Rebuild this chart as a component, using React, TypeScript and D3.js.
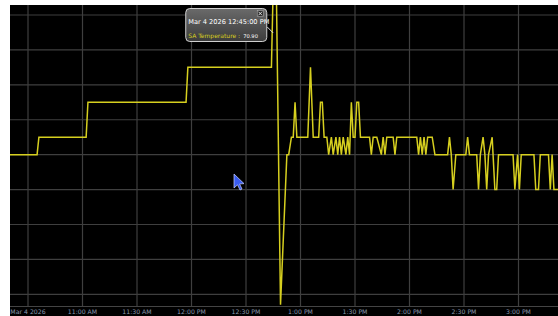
import * as d3 from "d3";
import { useEffect, useRef } from "react";

// SA Temperature trend, Mar 4 2026
const times: string[] = [
    "10:20:00", "10:35:00", "10:36:00", "11:02:00", "11:03:00", "11:57:00", "11:58:00",
    "12:44:00", "12:45:00", "12:46:00", "12:49:00", "12:52:30", "12:53:30", "12:55:00",
    "12:56:00", "12:57:00", "12:58:00", "13:04:00", "13:05:30", "13:07:00", "13:10:00",
    "13:11:00", "13:12:00", "13:13:00", "13:14:30", "13:15:30", "13:17:00", "13:18:00",
    "13:19:30", "13:20:30", "13:21:30", "13:22:30", "13:23:30", "13:25:00", "13:26:00",
    "13:27:00", "13:28:00", "13:29:00", "13:30:00", "13:31:00", "13:32:00", "13:33:00",
    "13:38:00", "13:39:00", "13:40:00", "13:42:00", "13:44:30", "13:45:30", "13:46:30",
    "13:47:30", "13:51:00", "13:52:00", "13:53:00", "14:04:00", "14:05:00", "14:06:00",
    "14:07:00", "14:08:00", "14:09:00", "14:10:00", "14:12:30", "14:14:00", "14:21:00",
    "14:22:00", "14:23:00", "14:24:00", "14:25:30", "14:31:00", "14:32:00", "14:33:00",
    "14:37:00", "14:38:00", "14:39:00", "14:40:30", "14:41:30", "14:42:30", "14:43:30",
    "14:45:30", "14:47:00", "14:48:00", "14:49:00", "14:57:00", "14:58:00", "14:59:30",
    "15:00:30", "15:01:30", "15:08:30", "15:09:30", "15:11:00", "15:12:00", "15:16:30",
    "15:17:30", "15:18:30", "15:19:30", "15:22:00",
];
const saTemp: number[] = [
    66.0, 66.0, 66.5, 66.5, 67.5, 67.5, 68.5,
    68.5, 70.9, 73.5, 61.7, 66.0, 66.0, 66.5,
    66.5, 67.5, 66.5, 66.5, 68.5, 66.5, 66.5,
    67.5, 67.5, 66.5, 66.5, 66.0, 66.5, 66.0,
    66.5, 66.0, 66.5, 66.0, 66.5, 66.0, 66.5,
    66.0, 67.5, 66.5, 66.5, 67.5, 67.5, 66.5,
    66.5, 66.0, 66.5, 66.5, 66.0, 66.5, 66.0,
    66.5, 66.5, 66.0, 66.5, 66.5, 66.0, 66.5,
    66.0, 66.5, 66.0, 66.5, 66.5, 66.0, 66.0,
    66.5, 66.0, 65.0, 66.0, 66.0, 66.5, 66.0,
    66.0, 65.0, 66.0, 66.5, 66.0, 65.0, 66.0,
    66.5, 65.0, 65.0, 66.0, 66.0, 65.0, 66.0,
    65.0, 66.0, 66.0, 65.0, 65.0, 66.0, 66.0,
    65.0, 66.0, 65.0, 65.0,
];

const tickTimes: string[] = ["10:30", "11:00", "11:30", "12:00", "12:30", "13:00", "13:30", "14:00", "14:30", "15:00", "15:30"];
const tickLabels: string[] = ["Mar 4 2026", "11:00 AM", "11:30 AM", "12:00 PM", "12:30 PM", "1:00 PM", "1:30 PM", "2:00 PM", "2:30 PM", "3:00 PM", "3:30 PM"];
const yGrid: number[] = [62, 63, 64, 65, 66, 67, 68, 69, 70];

const tipTime = "12:45:00";
const tipDate = "Mar 4 2026 12:45:00 PM";
const tipSeries = "SA Temperature :";
const tipValue = "70.90";

const W = 558;
const H = 316;
const LINE = "#d6cf1f";

const parseT = (s: string) => {
    const p = s.split(":").map(Number);
    return new Date(2026, 2, 4, p[0], p[1], p[2] ?? 0);
};

function App() {
    const svgRef = useRef<SVGSVGElement | null>(null);

    useEffect(() => {
        if (!svgRef.current) return;
        const plot = { left: 10, top: 5, right: W, bottom: 306 };

        const svg = d3.select(svgRef.current);
        svg.selectAll("*").remove();

        // 30 minutes ~ 54.5px, 10:30 sits at x=28
        const x = d3.scaleTime()
            .domain([parseT("10:30"), parseT("15:30")])
            .range([28, 28 + 54.5 * 10]);
        const y = d3.scaleLinear().domain([62, 70]).range([294.3, 15]);

        svg.append("rect").attr("width", W).attr("height", H).attr("fill", "#ffffff");
        svg.append("rect")
            .attr("x", plot.left).attr("y", plot.top)
            .attr("width", W - plot.left).attr("height", H - plot.top)
            .attr("fill", "#000000");

        svg.append("clipPath").attr("id", "plotclip")
            .append("rect")
            .attr("x", plot.left).attr("y", plot.top)
            .attr("width", plot.right - plot.left).attr("height", plot.bottom - plot.top);

        const grid = svg.append("g").attr("stroke", "#3f3f3f").attr("stroke-width", 1.2);
        grid.selectAll(".hg").data(yGrid).enter().append("line")
            .attr("x1", plot.left).attr("x2", plot.right)
            .attr("y1", d => y(d)).attr("y2", d => y(d));
        grid.selectAll(".vg").data(tickTimes).enter().append("line")
            .attr("x1", d => x(parseT(d))).attr("x2", d => x(parseT(d)))
            .attr("y1", plot.top).attr("y2", plot.bottom);

        svg.append("line")
            .attr("x1", plot.left).attr("x2", plot.right)
            .attr("y1", plot.bottom + 0.5).attr("y2", plot.bottom + 0.5)
            .attr("stroke", "#444").attr("stroke-width", 1);

        // x axis labels; the last one runs off the right edge as in the source
        svg.append("g").selectAll("text").data(tickTimes).enter().append("text")
            .attr("x", d => x(parseT(d)))
            .attr("y", 314)
            .attr("text-anchor", "middle")
            .attr("font-family", "DejaVu Sans, Verdana, sans-serif")
            .attr("font-size", 6.2)
            .attr("fill", "#8a98ae")
            .text((d, i) => tickLabels[i]);

        const pts = times.map((t, i) => ({ t: parseT(t), v: saTemp[i] }));
        const line = d3.line<{ t: Date; v: number }>()
            .x(d => x(d.t))
            .y(d => y(d.v));

        svg.append("path")
            .datum(pts)
            .attr("clip-path", "url(#plotclip)")
            .attr("d", line)
            .attr("fill", "none")
            .attr("stroke", LINE)
            .attr("stroke-width", 1.5)
            .attr("stroke-linejoin", "miter");

        // tooltip
        const tip = svg.append("g");
        const tx = x(parseT(tipTime));
        const grad = svg.append("defs").append("linearGradient")
            .attr("id", "tipgrad").attr("x1", 0).attr("y1", 0).attr("x2", 0).attr("y2", 1);
        grad.append("stop").attr("offset", "0%").attr("stop-color", "#6a6a6a");
        grad.append("stop").attr("offset", "100%").attr("stop-color", "#3c3c3c");

        tip.append("line")
            .attr("x1", tx - 6).attr("y1", 27).attr("x2", tx).attr("y2", 33)
            .attr("stroke", "#dddddd").attr("stroke-width", 1);
        tip.append("rect")
            .attr("x", tx - 87.5).attr("y", 8.5)
            .attr("width", 81).attr("height", 33)
            .attr("rx", 4)
            .attr("fill", "url(#tipgrad)")
            .attr("stroke", "#d0d0d0").attr("stroke-width", 1);
        tip.append("rect")
            .attr("x", tx - 16).attr("y", 10.5)
            .attr("width", 6).attr("height", 6)
            .attr("fill", "#2a2a2a").attr("stroke", "#aaaaaa").attr("stroke-width", 0.6);
        tip.append("path")
            .attr("d", `M${tx - 14.8},${11.7}L${tx - 11.2},${15.3}M${tx - 11.2},${11.7}L${tx - 14.8},${15.3}`)
            .attr("stroke", "#ffffff").attr("stroke-width", 0.8);
        tip.append("text")
            .attr("x", tx - 85).attr("y", 23.5)
            .attr("font-family", "DejaVu Sans, Verdana, sans-serif")
            .attr("font-size", 6.6)
            .attr("fill", "#ffffff")
            .text(tipDate);
        const row = tip.append("text")
            .attr("x", tx - 85).attr("y", 37.5)
            .attr("font-family", "DejaVu Sans, Verdana, sans-serif")
            .attr("font-size", 6)
            .attr("fill", LINE);
        row.append("tspan").text(tipSeries);
        row.append("tspan").attr("dx", 3).attr("fill", "#ffffff").attr("font-size", 5.2).text(tipValue);

        // mouse pointer
        svg.append("path")
            .attr("d", "M234,174 L234,188 L237.5,184.8 L240,190 L242,189 L239.6,184 L244,183.6 Z")
            .attr("fill", "#3a5cf0")
            .attr("stroke", "#c8d0ff")
            .attr("stroke-width", 0.7);
    }, []);

    return (
        <svg
            ref={svgRef}
            width={W}
            height={H}
            style={{ position: "absolute", left: 0, top: 0, display: "block" }}
        />
    );
}

export default App;
